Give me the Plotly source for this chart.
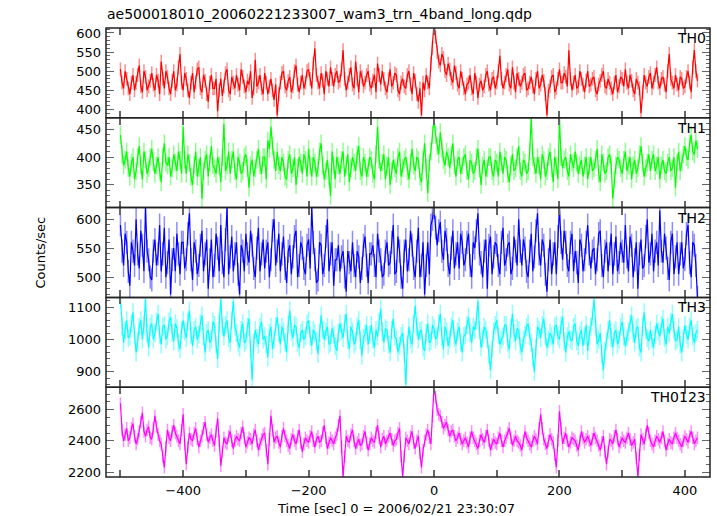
import plotly.graph_objects as go
from plotly.subplots import make_subplots

# time bins (sec): values on the 5 s grid plus values at the half steps
time_s = [-500 + 2.5 * k for k in range(369)]

th0 = [505, 455, 480, 440, 490, 470, 515, 445, 485, 460,
       495, 450, 475, 525, 455, 485, 440, 500, 465, 545,
       450, 480, 430, 495, 470, 510, 445, 475, 420, 490,
       455, 395, 480, 460, 505, 440, 470, 490, 450, 485,
       445, 465, 430, 530, 470, 455, 495, 440, 480, 425,
       385, 470, 500, 450, 485, 460, 515, 445, 490, 470,
       505, 455, 560, 470, 495, 440, 480, 510, 460, 500,
       475, 555, 450, 490, 465, 525, 445, 485, 470, 500,
       455, 490, 520, 465, 480, 445, 505, 470, 490, 440,
       480, 455, 500, 440, 475, 420, 385, 450, 470, 520,
       625, 550, 515, 535, 490, 505, 470, 495, 455, 480,
       440, 470, 455, 495, 430, 475, 460, 500, 450, 485,
       470, 540, 455, 490, 465, 510, 445, 480, 470, 495,
       455, 485, 440, 500, 465, 475, 385, 460, 490, 455,
       505, 470, 485, 555, 450, 490, 460, 480, 445, 500,
       465, 485, 440, 475, 500, 455, 470, 440, 490, 460,
       480, 505, 455, 475, 440, 470, 390, 490, 460, 495,
       470, 510, 455, 485, 445, 545, 470, 490, 450, 480,
       460, 500, 445, 555, 475]
th0_mid = [470, 500, 455, 470, 450, 490, 460, 500, 450, 475,
           465, 490, 440, 480, 500, 455, 475, 450, 510, 470,
           495, 450, 470, 445, 505, 455, 490, 440, 470, 455,
           480, 450, 435, 495, 450, 485, 455, 465, 505, 460,
           475, 500, 455, 460, 490, 440, 470, 460, 450, 465,
           440, 495, 460, 475, 445, 500, 465, 470, 455, 500,
           480, 520, 490, 455, 475, 500, 460, 480, 490, 470,
           505, 480, 470, 510, 455, 480, 500, 460, 490, 465,
           475, 445, 490, 500, 455, 480, 460, 495, 450, 470,
           460, 490, 465, 495, 440, 455, 470, 490, 455, 560,
           590, 525, 545, 500, 520, 480, 515, 465, 500, 455,
           465, 490, 440, 470, 465, 450, 490, 465, 480, 455,
           500, 480, 470, 505, 455, 470, 495, 460, 490, 450,
           470, 460, 480, 455, 490, 440, 450, 485, 445, 480,
           470, 495, 460, 480, 470, 455, 500, 465, 475, 460,
           480, 450, 465, 490, 460, 480, 455, 470, 445, 485,
           460, 470, 490, 450, 480, 455, 445, 470, 485, 455,
           490, 470, 480, 465, 500, 480, 455, 465, 485, 455,
           485, 470, 510, 500]

th1 = [440, 385, 410, 365, 400, 375, 420, 360, 395, 380,
       415, 370, 400, 355, 425, 385, 365, 405, 375, 395,
       455, 370, 390, 350, 410, 380, 325, 395, 365, 420,
       380, 400, 355, 460, 385, 370, 410, 360, 390, 375,
       405, 345, 395, 380, 415, 370, 400, 430, 455, 395,
       410, 375, 390, 360, 405, 380, 350, 400, 370, 395,
       415, 365, 390, 380, 425, 360, 395, 330, 385, 400,
       370, 410, 385, 355, 400, 375, 420, 365, 390, 380,
       395, 360, 455, 375, 405, 385, 350, 395, 370, 410,
       380, 400, 360, 415, 375, 395, 355, 425, 335, 410,
       470, 420, 445, 395, 410, 380, 425, 365, 400, 385,
       405, 360, 390, 375, 415, 350, 395, 380, 400, 365,
       390, 410, 370, 395, 355, 405, 380, 420, 365, 390,
       375, 470, 385, 400, 360, 395, 375, 410, 355, 385,
       470, 380, 400, 365, 390, 410, 370, 395, 385, 360,
       400, 380, 415, 355, 390, 375, 405, 325, 385, 395,
       370, 410, 385, 360, 395, 380, 420, 365, 390, 375,
       405, 385, 360, 395, 370, 400, 380, 345, 410, 390,
       420, 395, 440, 405, 415]
th1_mid = [405, 395, 380, 390, 360, 400, 385, 410, 370, 400,
           390, 385, 375, 400, 390, 400, 380, 390, 410, 370,
           395, 405, 365, 385, 365, 400, 375, 405, 390, 385,
           370, 385, 400, 375, 410, 395, 375, 400, 370, 400,
           380, 385, 365, 395, 385, 400, 360, 415, 420, 375,
           385, 400, 365, 395, 370, 400, 380, 390, 405, 365,
           385, 400, 365, 410, 385, 375, 365, 410, 360, 385,
           395, 365, 405, 380, 390, 405, 375, 400, 365, 400,
           370, 405, 395, 390, 360, 400, 375, 380, 400, 365,
           395, 375, 390, 385, 400, 365, 395, 380, 390, 440,
           440, 405, 415, 385, 400, 405, 385, 395, 370, 400,
           375, 395, 370, 400, 380, 385, 365, 400, 375, 395,
           365, 390, 400, 370, 385, 375, 400, 375, 395, 370,
           410, 400, 370, 385, 405, 365, 400, 380, 400, 360,
           400, 395, 375, 405, 380, 390, 385, 365, 400, 385,
           375, 395, 370, 405, 370, 400, 385, 360, 400, 380,
           395, 375, 400, 385, 370, 405, 390, 380, 405, 395,
           375, 400, 385, 375, 390, 375, 400, 390, 375, 405,
           400, 425, 410, 430]

th2 = [590, 520, 560, 485, 545, 600, 515, 555, 620, 530,
       495, 565, 540, 510, 585, 525, 470, 550, 575, 505,
       560, 530, 610, 495, 545, 520, 580, 540, 480, 565,
       520, 550, 590, 500, 620, 535, 510, 560, 470, 545,
       575, 525, 555, 500, 585, 540, 515, 560, 530, 600,
       545, 510, 570, 490, 555, 535, 580, 520, 550, 505,
       565, 620, 530, 495, 555, 520, 600, 540, 485, 530,
       510, 545, 475, 525, 560, 500, 535, 515, 570, 490,
       540, 520, 575, 530, 505, 560, 525, 590, 510, 545,
       480, 565, 530, 555, 500, 585, 520, 470, 560, 590,
       620, 555, 595, 530, 565, 505, 580, 540, 515, 560,
       530, 575, 500, 550, 610, 525, 545, 480, 570, 535,
       555, 505, 585, 530, 560, 515, 545, 600, 520, 550,
       500, 575, 535, 610, 520, 555, 475, 565, 540, 505,
       620, 530, 560, 510, 575, 545, 490, 555, 530, 590,
       515, 550, 530, 580, 500, 560, 540, 505, 570, 525,
       545, 590, 510, 555, 530, 480, 565, 520, 600, 540,
       510, 560, 615, 525, 550, 495, 575, 535, 505, 560,
       530, 590, 500, 555, 465]
th2_mid = [545, 575, 510, 560, 520, 540, 580, 510, 545, 500,
           545, 520, 590, 540, 500, 565, 530, 510, 540, 560,
           515, 575, 530, 560, 505, 555, 510, 565, 530, 500,
           575, 510, 525, 565, 505, 570, 540, 505, 555, 510,
           540, 580, 515, 550, 510, 565, 545, 500, 580, 520,
           575, 540, 515, 545, 505, 570, 500, 560, 515, 555,
           515, 560, 490, 560, 505, 570, 510, 560, 530, 555,
           535, 500, 545, 510, 520, 545, 490, 555, 520, 540,
           555, 500, 545, 500, 545, 520, 560, 505, 570, 500,
           545, 510, 580, 515, 545, 500, 560, 520, 505, 600,
           585, 580, 545, 580, 520, 550, 515, 560, 575, 520,
           560, 520, 560, 580, 540, 500, 565, 555, 505, 560,
           520, 560, 520, 555, 505, 570, 520, 545, 565, 510,
           545, 510, 580, 540, 565, 505, 530, 505, 560, 570,
           560, 580, 520, 560, 510, 525, 565, 510, 560, 540,
           545, 505, 575, 520, 545, 510, 575, 540, 510, 560,
           525, 535, 570, 500, 560, 540, 515, 570, 525, 575,
           545, 520, 545, 575, 515, 560, 505, 560, 540, 515,
           575, 525, 560, 520]

th3 = [1125, 990, 1060, 1010, 1085, 960, 1040, 1000, 1125, 975,
       1050, 1020, 1080, 985, 1045, 1010, 1070, 995, 1035, 970,
       1060, 1005, 1090, 980, 1040, 1015, 1075, 960, 1030, 1000,
       1045, 940, 1125, 1010, 1060, 990, 1120, 1020, 975, 1050,
       995, 1065, 875, 1030, 985, 1055, 1010, 945, 1040, 1000,
       1070, 985, 1025, 960, 1090, 1005, 1040, 975, 1030, 1010,
       1060, 980, 1020, 955, 1075, 1000, 1040, 990, 1015, 965,
       1050, 1005, 1080, 970, 1025, 995, 1060, 950, 1020, 985,
       1045, 975, 1010, 1095, 990, 1030, 960, 1065, 1000, 980,
       1020, 860, 1040, 985, 1105, 1000, 1030, 965, 1050, 995,
       1035, 1010, 1080, 970, 1025, 1000, 1060, 985, 1040, 960,
       1015, 1070, 990, 1030, 1120, 975, 1040, 1000, 905, 1025,
       1060, 985, 1010, 1045, 970, 1080, 995, 1030, 960, 1015,
       1050, 990, 900, 1040, 1005, 1065, 975, 1020, 985, 1045,
       1000, 1070, 960, 1025, 995, 1050, 980, 1030, 1010, 965,
       1040, 1125, 985, 1020, 905, 995, 1060, 975, 1030, 1000,
       1055, 980, 1025, 1075, 990, 1040, 960, 1085, 1005, 1030,
       975, 1050, 1010, 1065, 985, 1020, 1080, 995, 1040, 960,
       1045, 1000, 1060, 990, 1030]
th3_mid = [1040, 1030, 1005, 1050, 1015, 995, 1060, 1045, 1020, 1040,
           1000, 1055, 1015, 1040, 1000, 1055, 1020, 1050, 990, 1030,
           1025, 1055, 1015, 1030, 1000, 1050, 1010, 1020, 990, 1055,
           985, 1050, 1040, 1045, 1005, 1060, 1040, 990, 1030, 990,
           1040, 970, 990, 1005, 1040, 1000, 985, 1020, 970, 1040,
           1020, 1040, 990, 1045, 1025, 1045, 990, 1020, 1000, 1050,
           1010, 1030, 995, 1020, 1030, 1025, 985, 1035, 980, 1020,
           1025, 1050, 1000, 1040, 985, 1040, 1000, 1005, 1045, 1015,
           1000, 1030, 1055, 1025, 1035, 985, 1030, 1010, 960, 1010,
           960, 985, 1000, 1050, 1040, 1025, 975, 1020, 990, 1045,
           1000, 1050, 1010, 1040, 980, 1040, 1005, 1025, 990, 1010,
           1045, 1020, 1040, 1060, 1030, 1005, 1030, 955, 970, 1045,
           1015, 1000, 1045, 990, 1035, 1020, 1035, 980, 1000, 1040,
           1010, 945, 975, 1030, 1045, 1010, 1000, 1010, 1040, 1010,
           1045, 995, 1010, 1000, 1040, 995, 1015, 980, 1045, 1015,
           1070, 1040, 1000, 955, 965, 1030, 1005, 1020, 985, 1040,
           1010, 1005, 1050, 1020, 1035, 975, 1040, 1030, 995, 1000,
           1015, 1025, 1045, 1005, 1040, 1055, 1030, 1000, 985, 1005,
           1015, 1040, 1010, 1020]

th0123 = [2640, 2400, 2480, 2420, 2510, 2380, 2460, 2580, 2430, 2490,
          2410, 2560, 2440, 2380, 2230, 2470, 2400, 2500, 2430, 2380,
          2570, 2250, 2450, 2400, 2480, 2360, 2430, 2520, 2390, 2440,
          2370, 2545, 2240, 2420, 2380, 2460, 2350, 2430, 2400, 2490,
          2360, 2420, 2380, 2470, 2340, 2410, 2450, 2250, 2560, 2390,
          2430, 2360, 2480, 2400, 2350, 2440, 2380, 2470, 2330, 2420,
          2390, 2460, 2360, 2430, 2400, 2500, 2350, 2420, 2380, 2440,
          2560, 2170, 2430, 2390, 2470, 2350, 2410, 2380, 2460, 2340,
          2420, 2390, 2500, 2360, 2430, 2400, 2450, 2370, 2410, 2480,
          2170, 2420, 2380, 2460, 2350, 2430, 2230, 2400, 2470, 2380,
          2750, 2600, 2560, 2480, 2520, 2430, 2470, 2400, 2450, 2380,
          2420, 2360, 2460, 2400, 2350, 2440, 2390, 2470, 2340, 2410,
          2380, 2450, 2360, 2420, 2480, 2370, 2430, 2390, 2340, 2460,
          2400, 2360, 2430, 2380, 2570, 2410, 2350, 2440, 2390, 2230,
          2590, 2380, 2450, 2360, 2420, 2400, 2340, 2460, 2390, 2430,
          2370, 2450, 2400, 2340, 2430, 2250, 2410, 2380, 2470, 2360,
          2420, 2390, 2450, 2370, 2410, 2170, 2440, 2380, 2500, 2400,
          2360, 2430, 2390, 2460, 2340, 2410, 2380, 2450, 2400, 2360,
          2430, 2390, 2460, 2380, 2420]
th0123_mid = [2470, 2440, 2400, 2480, 2430, 2410, 2520, 2460, 2470, 2420,
              2480, 2490, 2400, 2300, 2360, 2420, 2460, 2450, 2400, 2470,
              2380, 2360, 2410, 2450, 2410, 2400, 2480, 2440, 2420, 2400,
              2460, 2400, 2330, 2390, 2430, 2400, 2400, 2410, 2450, 2420,
              2390, 2410, 2440, 2400, 2380, 2440, 2340, 2410, 2470, 2420,
              2390, 2430, 2430, 2370, 2410, 2400, 2430, 2390, 2380, 2400,
              2430, 2400, 2410, 2390, 2450, 2420, 2390, 2400, 2420, 2500,
              2360, 2300, 2400, 2440, 2400, 2390, 2370, 2430, 2390, 2380,
              2400, 2450, 2420, 2410, 2380, 2430, 2410, 2400, 2450, 2300,
              2300, 2400, 2430, 2390, 2400, 2320, 2340, 2440, 2420, 2560,
              2680, 2570, 2520, 2500, 2470, 2460, 2430, 2420, 2410, 2400,
              2390, 2420, 2420, 2380, 2400, 2410, 2430, 2400, 2380, 2390,
              2420, 2400, 2400, 2450, 2420, 2400, 2400, 2370, 2400, 2420,
              2380, 2400, 2410, 2480, 2480, 2380, 2400, 2410, 2310, 2400,
              2480, 2420, 2400, 2390, 2410, 2370, 2400, 2420, 2410, 2400,
              2410, 2420, 2370, 2390, 2330, 2330, 2400, 2430, 2410, 2390,
              2400, 2420, 2410, 2390, 2290, 2310, 2410, 2440, 2450, 2380,
              2400, 2410, 2420, 2400, 2380, 2390, 2420, 2420, 2380, 2400,
              2410, 2430, 2420, 2400]

band_names = ["TH0", "TH1", "TH2", "TH3", "TH0123"]
band_errors = [18, 16, 20, 28, 40]


def interleave(on_grid, half_step):
    out = []
    for a, b in zip(on_grid, half_step):
        out += [a, b]
    out.append(on_grid[-1])
    return out


series = [interleave(th0, th0_mid), interleave(th1, th1_mid),
          interleave(th2, th2_mid), interleave(th3, th3_mid),
          interleave(th0123, th0123_mid)]
colors = ["#ff0000", "#00ff00", "#0000ff", "#00ffff", "#ff00ff"]
light = ["rgba(255,0,0,0.45)", "rgba(0,255,0,0.45)", "rgba(0,0,255,0.45)",
         "rgba(0,255,255,0.45)", "rgba(255,0,255,0.45)"]
y_ranges = [[378, 613], [309, 471], [465, 620], [852, 1131], [2168, 2744]]
y_dtick = [50, 50, 50, 100, 200]
y_minor = [10, 10, 10, 20, 50]

FONT = "DejaVu Sans"
TICKC = "#666"
fig = make_subplots(rows=5, cols=1, shared_xaxes=True, vertical_spacing=0)

for i, (vals, name) in enumerate(zip(series, band_names)):
    sfx = "" if i == 0 else str(i + 1)
    fig.add_trace(go.Scatter(
        x=time_s, y=vals, mode="lines", name=name,
        line=dict(color=colors[i], width=1.2),
        error_y=dict(type="constant", value=band_errors[i], color=light[i],
                     thickness=1.5, width=0, visible=True),
    ), row=i + 1, col=1)
    fig.update_yaxes(
        range=y_ranges[i], tickmode="linear", dtick=y_dtick[i], tick0=0,
        ticks="inside", ticklen=8, tickwidth=1.3, tickcolor=TICKC,
        minor=dict(dtick=y_minor[i], tick0=0, ticks="inside", ticklen=4,
                   tickcolor=TICKC, tickwidth=1.2),
        showline=False, mirror="ticks",
        showgrid=False, zeroline=False, ticklabelstandoff=4,
        tickfont=dict(family=FONT, size=13, color="black"),
        row=i + 1, col=1)
    fig.update_xaxes(
        range=[-523, 440], tickmode="linear", tick0=0, dtick=200,
        ticks="inside", ticklen=7, tickwidth=1.5, tickcolor=TICKC,
        minor=dict(tick0=0, dtick=100, ticks="inside", ticklen=7,
                   tickcolor=TICKC, tickwidth=1.5),
        showline=False, mirror="ticks",
        showgrid=False, zeroline=False,
        tickfont=dict(family=FONT, size=13, color="black"),
        row=i + 1, col=1)
    # panel frame
    fig.add_shape(type="rect", xref=f"x{sfx} domain", yref=f"y{sfx} domain",
                  x0=0, x1=1, y0=0, y1=1, line=dict(color="#222", width=1.5),
                  fillcolor="rgba(0,0,0,0)", layer="above")
    fig.add_annotation(
        text=name, xref=f"x{sfx} domain", yref=f"y{sfx} domain",
        x=1, y=1, xanchor="right", yanchor="top", xshift=-2, yshift=0,
        showarrow=False, font=dict(family=FONT, size=14, color="black"))

fig.update_xaxes(ticklabelstandoff=4, row=5, col=1)

fig.add_annotation(text="Counts/sec", xref="paper", yref="paper",
                   x=-66 / 604, y=0.5, textangle=-90, showarrow=False,
                   xanchor="center", yanchor="middle",
                   font=dict(family=FONT, size=13, color="black"))
fig.add_annotation(text="Time [sec] 0 = 2006/02/21 23:30:07", xref="paper",
                   yref="paper", x=(396 - 106) / 604, y=-31 / 449,
                   showarrow=False, xanchor="center", yanchor="middle",
                   font=dict(family=FONT, size=13, color="black"))

fig.update_layout(
    width=717, height=516,
    margin=dict(l=106, r=7, t=28, b=39),
    plot_bgcolor="white", paper_bgcolor="white",
    showlegend=False,
    font=dict(family=FONT, size=13, color="black"),
    title=dict(text="ae500018010_20060221233007_wam3_trn_4band_long.qdp",
               x=107 / 717, xanchor="left", y=1 - 14 / 516, yanchor="middle",
               font=dict(family=FONT, size=14, color="black")),
)

fig.write_html("out.html", config={"displayModeBar": False},
               post_script="document.body.style.margin='0';"
                           "document.body.style.overflow='hidden';")
